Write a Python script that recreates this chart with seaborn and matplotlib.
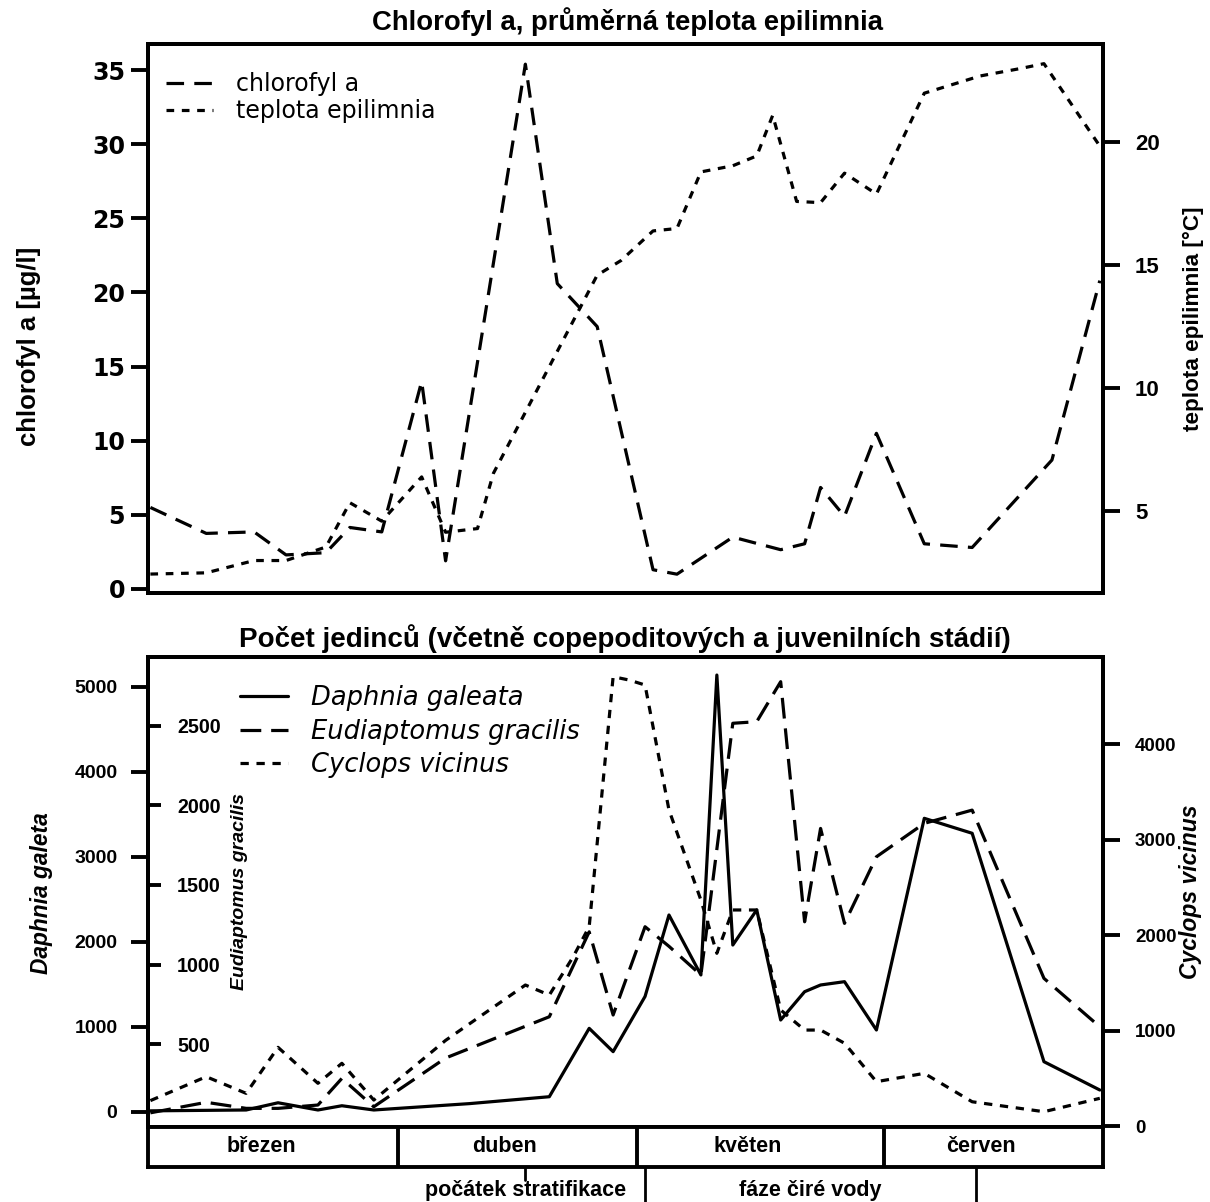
import matplotlib
matplotlib.use("Agg")
import matplotlib.pyplot as plt
import seaborn as sns
from matplotlib.lines import Line2D

# ---------------------------------------------------------------------------
# Data (x = days counted from 1 March)
# ---------------------------------------------------------------------------
chl_days = [0, 7, 13, 17, 22, 25, 29, 34, 37, 47, 51, 56, 63, 66, 73, 79, 82,
            84, 87, 91, 97, 103, 113, 119]
chl_values = [5.5, 3.75, 3.85, 2.3, 2.45, 4.15, 3.85, 14.0, 1.9, 35.4, 20.6,
              17.7, 1.3, 1.0, 3.5, 2.65, 3.05, 6.85, 4.9, 10.5, 3.05, 2.8,
              8.7, 20.8]

temp_days = [0, 7, 13, 17, 22, 25, 29, 34, 37, 41, 43, 56, 59, 63, 66, 69, 73,
             76, 78, 81, 84, 87, 91, 97, 104, 109, 112, 119]
temp_values = [2.45, 2.5, 3.0, 3.0, 3.55, 5.35, 4.6, 6.4, 4.15, 4.3, 6.55,
               14.6, 15.2, 16.4, 16.5, 18.8, 19.05, 19.45, 21.1, 17.6, 17.55,
               18.75, 17.9, 22.0, 22.7, 23.0, 23.2, 19.85]

daphnia_days = [0, 12, 16, 21, 24, 28, 40, 50, 55, 58, 62, 65, 69, 71, 73, 76,
                79, 82, 84, 87, 91, 97, 103, 112, 119]
daphnia_values = [10, 20, 105, 20, 70, 20, 95, 176, 980, 706, 1355, 2313,
                  1608, 5135, 1960, 2373, 1078, 1411, 1490, 1529, 961, 3450,
                  3274, 588, 255]

eudiap_days = [0, 7, 12, 16, 21, 24, 28, 37, 50, 55, 58, 62, 65, 69, 73, 76,
               79, 82, 84, 87, 91, 97, 103, 112, 119]
eudiap_values = [70, 136, 98, 98, 119, 286, 108, 414, 673, 1206, 684, 1238,
                 1115, 935, 2515, 2525, 2776, 1269, 1855, 1259, 1677, 1887,
                 1970, 914, 610]

cyclops_days = [0, 7, 12, 16, 21, 24, 28, 37, 47, 50, 53, 55, 58, 60, 62, 65,
                69, 71, 73, 76, 79, 82, 84, 87, 91, 97, 103, 112, 119]
cyclops_values = [270, 520, 346, 827, 451, 660, 276, 900, 1479, 1374, 1775,
                  2090, 4704, 4669, 4617, 3310, 2368, 1811, 2264, 2264, 1218,
                  1008, 1008, 870, 468, 555, 258, 154, 294]

months = ["březen", "duben", "květen", "červen"]
month_starts = [0, 31, 61, 92]
stratification_day = 47
clear_water = (62, 103.5)

chl_ticks = [0, 5, 10, 15, 20, 25, 30, 35]
temp_ticks = [5, 10, 15, 20]
daphnia_ticks = [0, 1000, 2000, 3000, 4000, 5000]
eudiap_ticks = [500, 1000, 1500, 2000, 2500]
cyclops_ticks = [0, 1000, 2000, 3000, 4000]

# ---------------------------------------------------------------------------
sns.set_style("white")
plt.rcParams["font.family"] = ["DejaVu Sans"]
plt.rcParams.update({
    "text.color": "black", "axes.labelcolor": "black",
    "xtick.color": "black", "ytick.color": "black",
    "axes.edgecolor": "black",
})
ARIAL = ["Liberation Sans", "DejaVu Sans"]

W, H = 1210, 1202
fig = plt.figure(figsize=(W / 100, H / 100), dpi=100)


def fx(px):
    return px / W


def fy(py):
    return 1 - py / H


def box(x0, y0, x1, y1):
    return [fx(x0), fy(y1), fx(x1) - fx(x0), fy(y0) - fy(y1)]


XLIM = (-0.3, 119.4)
LW = 2.3
SPINE_LW = 2.8

DASH_CHL = (0, (5.5, 3.2))
DOT_TEMP = (0, (2.4, 2.4))
DASH_EUD = (0, (6.5, 3.1))
DOT_CYC = (0, (2.6, 2.4))


def style_frame(ax):
    for s in ax.spines.values():
        s.set_linewidth(SPINE_LW)
        s.set_color("black")
    ax.set_xticks([])
    ax.set_xlim(*XLIM)
    ax.set_xlabel("")
    ax.set_ylabel("")


def bold_ticks(ax, family):
    for lab in ax.get_yticklabels():
        lab.set_fontweight("bold")
        lab.set_family(family)


# ---------------------------- top panel -----------------------------------
ax_chl = fig.add_axes(box(148, 44, 1103, 593))
ax_tmp = ax_chl.twinx()

sns.lineplot(x=chl_days, y=chl_values, ax=ax_chl, color="black",
             linewidth=LW, linestyle=DASH_CHL)
sns.lineplot(x=temp_days, y=temp_values, ax=ax_tmp, color="black",
             linewidth=LW, linestyle=DOT_TEMP)

ax_chl.set_ylim(-0.27, 36.76)
ax_tmp.set_ylim(1.68, 24.0)
for a in (ax_chl, ax_tmp):
    style_frame(a)

ax_chl.set_yticks(chl_ticks)
ax_chl.tick_params(axis="y", direction="out", length=12, width=SPINE_LW,
                   pad=4.5, labelsize=17, left=True)
ax_tmp.set_yticks(temp_ticks)
ax_tmp.tick_params(axis="y", direction="out", length=12, width=SPINE_LW,
                   pad=11, labelsize=16, right=True)
bold_ticks(ax_chl, ["DejaVu Sans"])
bold_ticks(ax_tmp, ARIAL)

ax_tmp.legend(
    handles=[Line2D([], [], color="black", lw=LW, linestyle=DASH_CHL),
             Line2D([], [], color="black", lw=LW, linestyle=DOT_TEMP)],
    labels=["chlorofyl a", "teplota epilimnia"],
    loc="upper left", bbox_to_anchor=(fx(166), fy(72)),
    bbox_transform=fig.transFigure, frameon=False, borderpad=0,
    borderaxespad=0, handlelength=2.0, handletextpad=0.95,
    labelspacing=0.12, prop={"size": 17})

fig.text(fx(628), fy(22), "Chlorofyl a, průměrná teplota epilimnia",
         ha="center", va="center", fontsize=19.8, fontweight="bold",
         family=ARIAL)
fig.text(fx(29), fy(346), "chlorofyl a [µg/l]", rotation=90, ha="center",
         va="center", fontsize=18.5, fontweight="bold", family=ARIAL)
fig.text(fx(1193), fy(319), "teplota epilimnia [°C]", rotation=90,
         ha="center", va="center", fontsize=16.2, fontweight="bold",
         family=ARIAL)

# --------------------------- bottom panel ---------------------------------
ax_d = fig.add_axes(box(148, 657, 1103, 1127))
ax_e = ax_d.twinx()
ax_c = ax_d.twinx()

sns.lineplot(x=daphnia_days, y=daphnia_values, ax=ax_d, color="black",
             linewidth=LW, linestyle="-")
sns.lineplot(x=eudiap_days, y=eudiap_values, ax=ax_e, color="black",
             linewidth=LW, linestyle=DASH_EUD)
sns.lineplot(x=cyclops_days, y=cyclops_values, ax=ax_c, color="black",
             linewidth=LW, linestyle=DOT_CYC)

ax_d.set_ylim(-180, 5347)
ax_e.set_ylim(-19, 2931)
ax_c.set_ylim(-6, 4910)
for a in (ax_d, ax_e, ax_c):
    style_frame(a)

ax_d.set_yticks(daphnia_ticks)
ax_d.tick_params(axis="y", direction="out", length=12, width=SPINE_LW,
                 pad=10, labelsize=14, left=True)

# Eudiaptomus scale sits on the inner side of the left frame
ax_e.spines["right"].set_position(("axes", 0.0))
for side in ("left", "top", "bottom"):
    ax_e.spines[side].set_visible(False)
ax_e.set_yticks(eudiap_ticks)
ax_e.tick_params(axis="y", direction="out", length=9, width=SPINE_LW,
                 pad=12, labelsize=14.2, right=True)

ax_c.set_yticks(cyclops_ticks)
ax_c.tick_params(axis="y", direction="out", length=12, width=SPINE_LW,
                 pad=11, labelsize=13.5, right=True)
for a in (ax_d, ax_e, ax_c):
    bold_ticks(a, ARIAL)

ax_c.legend(
    handles=[Line2D([], [], color="black", lw=LW, linestyle="-"),
             Line2D([], [], color="black", lw=LW, linestyle=DASH_EUD),
             Line2D([], [], color="black", lw=LW, linestyle=DOT_CYC)],
    labels=["Daphnia galeata", "Eudiaptomus gracilis", "Cyclops vicinus"],
    loc="upper left", bbox_to_anchor=(fx(240), fy(685)),
    bbox_transform=fig.transFigure, frameon=False, borderpad=0,
    borderaxespad=0, handlelength=1.85, handletextpad=0.9,
    labelspacing=0.3, prop={"size": 18.5, "style": "oblique"})

fig.text(fx(625), fy(639),
         "Počet jedinců (včetně copepoditových a juvenilních stádií)",
         ha="center", va="center", fontsize=20, fontweight="bold",
         family=ARIAL)
fig.text(fx(42), fy(893), "Daphnia galeta", rotation=90, ha="center",
         va="center", fontsize=16.4, fontweight="bold", fontstyle="italic",
         family=ARIAL)
fig.text(fx(240), fy(892), "Eudiaptomus gracilis", rotation=90, ha="center",
         va="center", fontsize=14, fontweight="bold", fontstyle="italic",
         family=ARIAL)
fig.text(fx(1191), fy(892), "Cyclops vicinus", rotation=90, ha="center",
         va="center", fontsize=16.5, fontweight="bold", fontstyle="italic",
         family=ARIAL)

# ----------------------------- month bar ----------------------------------
ax_m = fig.add_axes(box(148, 1127, 1103, 1167))
style_frame(ax_m)
ax_m.set_yticks([])
ax_m.set_ylim(0, 1)
month_ends = month_starts[1:] + [XLIM[1]]
for name, s, e in zip(months, month_starts, month_ends):
    if s > 0:
        ax_m.axvline(s, color="black", lw=SPINE_LW)
    ax_m.text((s + e) / 2 - 1.6, 0.5, name, ha="center", va="center",
              fontsize=15.5, fontweight="bold", family=ARIAL)

ax_m.axvline(stratification_day, ymin=-0.33, ymax=0, color="black",
             lw=2.0, clip_on=False)
for d in clear_water:
    ax_m.axvline(d, ymin=-0.95, ymax=0, color="black", lw=2.0,
                 clip_on=False)
ax_m.text(stratification_day, -0.58, "počátek stratifikace", ha="center",
          va="center", fontsize=15.5, fontweight="bold", family=ARIAL,
          clip_on=False)
ax_m.text(sum(clear_water) / 2, -0.58, "fáze čiré vody", ha="center",
          va="center", fontsize=15.5, fontweight="bold", family=ARIAL,
          clip_on=False)

fig.savefig("out.png", dpi=100)
